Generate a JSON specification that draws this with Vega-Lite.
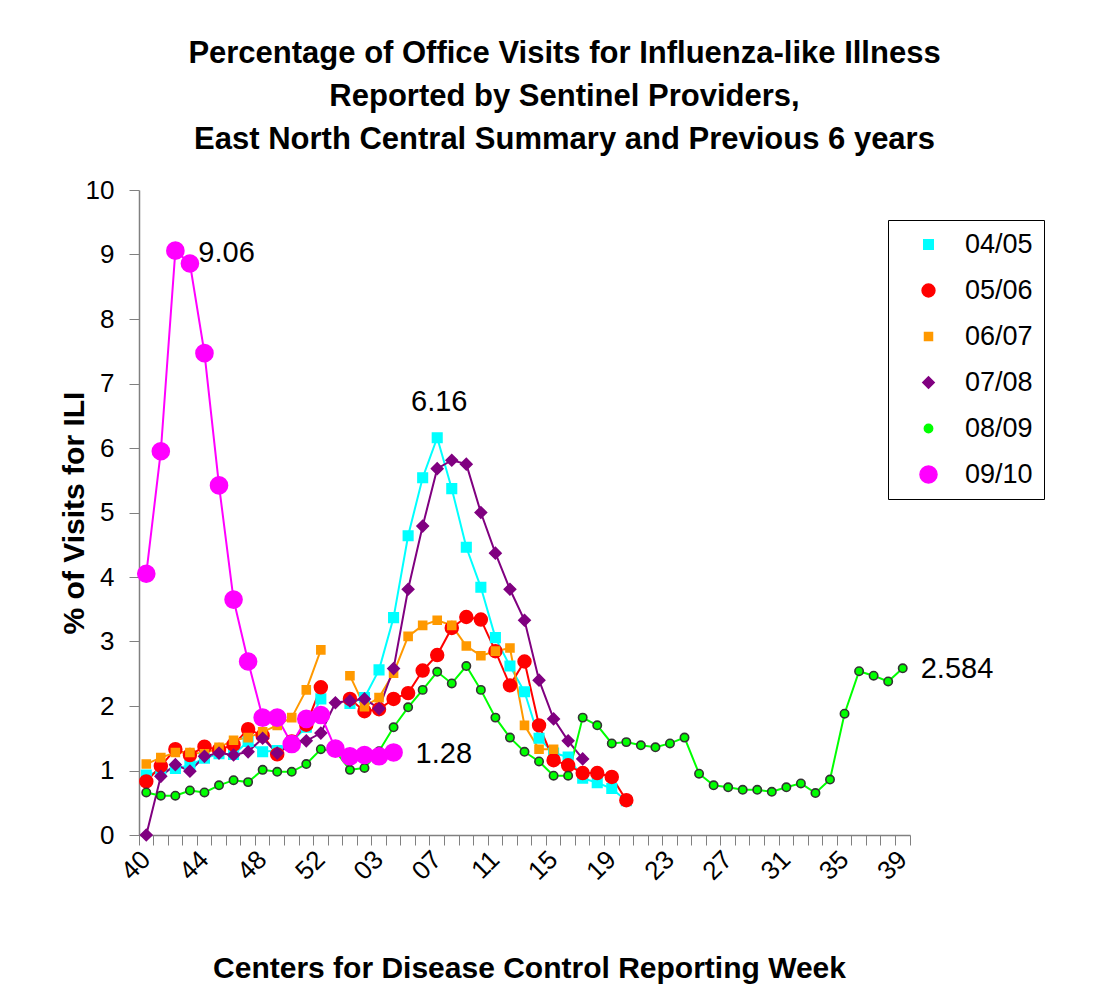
{
  "$schema": "https://vega.github.io/schema/vega-lite/v6.json",
  "width": 771,
  "height": 645,
  "autosize": {"type": "none"},
  "padding": {"left": 139, "top": 190, "right": 193, "bottom": 156},
  "background": "white",
  "config": {
    "font": "Liberation Sans",
    "view": {"stroke": null},
    "axis": {"grid": false, "domainColor": "#808080", "tickColor": "#808080", "labelColor": "#000", "titleColor": "#000", "labelFont": "Liberation Sans", "titleFont": "Liberation Sans"}
  },
  "title": {
    "text": ["Percentage of Office Visits for Influenza-like Illness", "Reported by Sentinel Providers,", "East North Central Summary and Previous 6 years"],
    "font": "Liberation Sans",
    "fontSize": 31,
    "fontWeight": "bold",
    "lineHeight": 43,
    "color": "#000",
    "anchor": "middle",
    "dx": 40,
    "offset": 21
  },
  "data": {
    "values": [
      {"week": "40", "04/05": 0.93, "05/06": 0.83, "06/07": 1.10, "07/08": 0.00, "08/09": 0.66, "09/10": 4.05},
      {"week": "41", "04/05": 0.99, "05/06": 1.07, "06/07": 1.20, "07/08": 0.91, "08/09": 0.61, "09/10": 5.95},
      {"week": "42", "04/05": 1.03, "05/06": 1.33, "06/07": 1.28, "07/08": 1.09, "08/09": 0.61, "09/10": 9.06},
      {"week": "43", "04/05": 1.08, "05/06": 1.24, "06/07": 1.28, "07/08": 0.99, "08/09": 0.69, "09/10": 8.86},
      {"week": "44", "04/05": 1.19, "05/06": 1.37, "06/07": 1.26, "07/08": 1.22, "08/09": 0.66, "09/10": 7.47},
      {"week": "45", "04/05": 1.26, "05/06": 1.32, "06/07": 1.36, "07/08": 1.27, "08/09": 0.77, "09/10": 5.42},
      {"week": "46", "04/05": 1.25, "05/06": 1.40, "06/07": 1.47, "07/08": 1.24, "08/09": 0.85, "09/10": 3.65},
      {"week": "47", "04/05": 1.45, "05/06": 1.64, "06/07": 1.51, "07/08": 1.29, "08/09": 0.82, "09/10": 2.69},
      {"week": "48", "04/05": 1.29, "05/06": 1.54, "06/07": 1.60, "07/08": 1.50, "08/09": 1.01, "09/10": 1.82},
      {"week": "49", "04/05": 1.31, "05/06": 1.25, "06/07": 1.70, "07/08": 1.27, "08/09": 0.98, "09/10": 1.82},
      {"week": "50", "04/05": 1.45, "05/06": 1.45, "06/07": 1.82, "07/08": 1.40, "08/09": 0.98, "09/10": 1.41},
      {"week": "51", "04/05": 1.67, "05/06": 1.71, "06/07": 2.25, "07/08": 1.46, "08/09": 1.10, "09/10": 1.80},
      {"week": "52", "04/05": 2.11, "05/06": 2.29, "06/07": 2.87, "07/08": 1.58, "08/09": 1.33, "09/10": 1.86},
      {"week": "53", "07/08": 2.05, "08/09": 1.30, "09/10": 1.34},
      {"week": "01", "04/05": 2.04, "05/06": 2.11, "06/07": 2.47, "07/08": 2.08, "08/09": 1.01, "09/10": 1.22},
      {"week": "02", "04/05": 2.13, "05/06": 1.92, "06/07": 1.99, "07/08": 2.11, "08/09": 1.04, "09/10": 1.24},
      {"week": "03", "04/05": 2.56, "05/06": 1.95, "06/07": 2.13, "07/08": 1.96, "08/09": 1.30, "09/10": 1.22},
      {"week": "04", "04/05": 3.37, "05/06": 2.11, "06/07": 2.51, "07/08": 2.58, "08/09": 1.67, "09/10": 1.28},
      {"week": "05", "04/05": 4.64, "05/06": 2.20, "06/07": 3.08, "07/08": 3.81, "08/09": 1.98},
      {"week": "06", "04/05": 5.54, "05/06": 2.55, "06/07": 3.25, "07/08": 4.79, "08/09": 2.25},
      {"week": "07", "04/05": 6.16, "05/06": 2.79, "06/07": 3.33, "07/08": 5.68, "08/09": 2.53},
      {"week": "08", "04/05": 5.37, "05/06": 3.21, "06/07": 3.25, "07/08": 5.81, "08/09": 2.35},
      {"week": "09", "04/05": 4.46, "05/06": 3.38, "06/07": 2.93, "07/08": 5.75, "08/09": 2.62},
      {"week": "10", "04/05": 3.84, "05/06": 3.34, "06/07": 2.78, "07/08": 5.00, "08/09": 2.25},
      {"week": "11", "04/05": 3.06, "05/06": 2.85, "06/07": 2.85, "07/08": 4.37, "08/09": 1.82},
      {"week": "12", "04/05": 2.62, "05/06": 2.32, "06/07": 2.90, "07/08": 3.81, "08/09": 1.51},
      {"week": "13", "04/05": 2.22, "05/06": 2.69, "06/07": 1.70, "07/08": 3.33, "08/09": 1.29},
      {"week": "14", "04/05": 1.50, "05/06": 1.70, "06/07": 1.33, "07/08": 2.40, "08/09": 1.14},
      {"week": "15", "04/05": 1.27, "05/06": 1.16, "06/07": 1.33, "07/08": 1.80, "08/09": 0.92},
      {"week": "16", "04/05": 1.21, "05/06": 1.08, "07/08": 1.46, "08/09": 0.92},
      {"week": "17", "04/05": 0.88, "05/06": 0.96, "07/08": 1.18, "08/09": 1.82},
      {"week": "18", "04/05": 0.81, "05/06": 0.96, "08/09": 1.70},
      {"week": "19", "04/05": 0.72, "05/06": 0.90, "08/09": 1.42},
      {"week": "20", "04/05": 0.53, "05/06": 0.54, "08/09": 1.44},
      {"week": "21", "08/09": 1.39},
      {"week": "22", "08/09": 1.36},
      {"week": "23", "08/09": 1.42},
      {"week": "24", "08/09": 1.51},
      {"week": "25", "08/09": 0.95},
      {"week": "26", "08/09": 0.77},
      {"week": "27", "08/09": 0.74},
      {"week": "28", "08/09": 0.70},
      {"week": "29", "08/09": 0.70},
      {"week": "30", "08/09": 0.67},
      {"week": "31", "08/09": 0.74},
      {"week": "32", "08/09": 0.80},
      {"week": "33", "08/09": 0.65},
      {"week": "34", "08/09": 0.86},
      {"week": "35", "08/09": 1.88},
      {"week": "36", "08/09": 2.54},
      {"week": "37", "08/09": 2.47},
      {"week": "38", "08/09": 2.38},
      {"week": "39", "08/09": 2.584}
    ]
  },
  "transform": [
    {"fold": ["04/05", "05/06", "06/07", "07/08", "08/09", "09/10"], "as": ["season", "value"]}
  ],
  "encoding": {
    "x": {
      "field": "week",
      "type": "ordinal",
      "scale": {
        "type": "band",
        "paddingInner": 0,
        "paddingOuter": 0,
        "domain": ["40","41","42","43","44","45","46","47","48","49","50","51","52","53","01","02","03","04","05","06","07","08","09","10","11","12","13","14","15","16","17","18","19","20","21","22","23","24","25","26","27","28","29","30","31","32","33","34","35","36","37","38","39"]
      },
      "axis": {
        "title": "Centers for Disease Control Reporting Week",
        "titleFontSize": 30,
        "titleFontWeight": "bold",
        "titleX": 390,
        "titleY": 142,
        "titleAlign": "center",
        "titleBaseline": "alphabetic",
        "labelAngle": -45,
        "labelAlign": "right",
        "labelBaseline": "middle",
        "labelFontSize": 26,
        "labelPadding": 10,
        "labelOverlap": false,
        "labelBound": false,
        "labelExpr": "indexof(['40','44','48','52','03','07','11','15','19','23','27','31','35','39'], datum.value) >= 0 ? datum.value : ''",
        "bandPosition": 1,
        "tickExtra": true,
        "tickSize": 10,
        "domainWidth": 1.5
      }
    },
    "y": {
      "field": "value",
      "type": "quantitative",
      "scale": {"domain": [0, 10], "nice": false, "zero": true},
      "axis": {
        "values": [0, 1, 2, 3, 4, 5, 6, 7, 8, 9, 10],
        "title": "% of Visits for ILI",
        "titleFontSize": 30,
        "titleFontWeight": "bold",
        "titleAngle": -90,
        "titleX": -56,
        "titleY": 322.5,
        "titleAlign": "center",
        "titleBaseline": "alphabetic",
        "labelFontSize": 26,
        "labelPadding": 15,
        "tickSize": 10,
        "domainWidth": 1.5
      }
    }
  },
  "layer": [
    {
      "mark": {"type": "line", "strokeWidth": 2, "invalid": "break-paths-filter-domains"},
      "encoding": {
        "color": {
          "field": "season",
          "type": "nominal",
          "scale": {"domain": ["04/05", "05/06", "06/07", "07/08", "08/09", "09/10"], "range": ["#00FFFF", "#FF0000", "#FF9900", "#800080", "#00FF00", "#FF00FF"]}
        }
      }
    },
    {
      "mark": {"type": "point", "filled": true, "opacity": 1, "strokeWidth": 1.6, "invalid": "filter"},
      "encoding": {
        "color": {
          "field": "season",
          "type": "nominal",
          "scale": {"domain": ["04/05", "05/06", "06/07", "07/08", "08/09", "09/10"], "range": ["#00FFFF", "#FF0000", "#FF9900", "#800080", "#00FF00", "#FF00FF"]},
          "legend": {
            "title": null,
            "orient": "none",
            "legendX": 749,
            "legendY": 30,
            "padding": 11,
            "rowPadding": 18,
            "strokeColor": "#000",
            "fillColor": "#fff",
            "cornerRadius": 0,
            "labelFont": "Liberation Sans",
            "labelFontSize": 27,
            "labelColor": "#000",
            "symbolOffset": 16,
            "labelOffset": 23
          }
        },
        "stroke": {
          "field": "season",
          "type": "nominal",
          "scale": {"domain": ["04/05", "05/06", "06/07", "07/08", "08/09", "09/10"], "range": ["#00FFFF", "#FF0000", "#FF9900", "#800080", "#333333", "#FF00FF"]},
          "legend": null
        },
        "shape": {
          "field": "season",
          "type": "nominal",
          "scale": {"domain": ["04/05", "05/06", "06/07", "07/08", "08/09", "09/10"], "range": ["square", "circle", "square", "diamond", "circle", "circle"]},
          "legend": null
        },
        "size": {
          "field": "season",
          "type": "nominal",
          "scale": {"type": "ordinal", "domain": ["04/05", "05/06", "06/07", "07/08", "08/09", "09/10"], "range": [90, 165, 64, 130, 70, 290]},
          "legend": null
        }
      }
    },
    {
      "data": {"values": [{"week": "42", "value": 9.06, "label": "9.06"}]},
      "transform": [],
      "mark": {"type": "text", "font": "Liberation Sans", "fontSize": 29, "align": "left", "baseline": "middle", "dx": 23, "dy": 2, "color": "#000"},
      "encoding": {"text": {"field": "label"}}
    },
    {
      "data": {"values": [{"week": "07", "value": 6.16, "label": "6.16"}]},
      "transform": [],
      "mark": {"type": "text", "font": "Liberation Sans", "fontSize": 29, "align": "center", "baseline": "middle", "dx": 2, "dy": -36, "color": "#000"},
      "encoding": {"text": {"field": "label"}}
    },
    {
      "data": {"values": [{"week": "04", "value": 1.28, "label": "1.28"}]},
      "transform": [],
      "mark": {"type": "text", "font": "Liberation Sans", "fontSize": 29, "align": "left", "baseline": "middle", "dx": 22, "dy": 2, "color": "#000"},
      "encoding": {"text": {"field": "label"}}
    },
    {
      "data": {"values": [{"week": "39", "value": 2.584, "label": "2.584"}]},
      "transform": [],
      "mark": {"type": "text", "font": "Liberation Sans", "fontSize": 29, "align": "left", "baseline": "middle", "dx": 18, "dy": 1, "color": "#000"},
      "encoding": {"text": {"field": "label"}}
    }
  ]
}
